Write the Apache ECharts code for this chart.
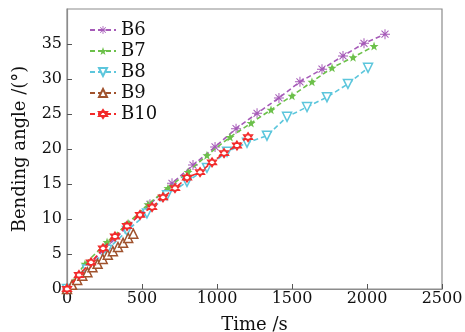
<!DOCTYPE html>
<html>
<head>
<meta charset="utf-8">
<script src="https://cdn.jsdelivr.net/npm/echarts@6/dist/echarts.min.js"></script>
<style>
  html, body { margin: 0; padding: 0; background: #fff; }
  #chart { width: 465px; height: 332px; }
</style>
</head>
<body>
<div id="chart"></div>
<script>
const seriesNames = ["B6", "B7", "B8", "B9", "B10"];

const b6Time = [0, 140, 273, 413, 553, 700, 840, 987, 1127, 1267, 1413, 1553, 1700, 1840, 1980, 2120];
const b6Angle = [0, 3.3, 6.2, 9.1, 12.1, 15.1, 17.7, 20.3, 22.9, 25.1, 27.3, 29.6, 31.4, 33.3, 35.1, 36.4];

const b7Time = [0, 120, 267, 407, 540, 673, 807, 933, 1087, 1227, 1360, 1500, 1633, 1767, 1907, 2047];
const b7Angle = [0, 3.6, 6.7, 9.4, 12.1, 14.4, 16.7, 19.1, 21.7, 23.7, 25.6, 27.6, 29.6, 31.6, 33.1, 34.7];

const b8Time = [0, 133, 267, 400, 533, 667, 800, 933, 1067, 1200, 1333, 1467, 1600, 1733, 1873, 2007];
const b8Angle = [0, 2.8, 5.6, 8.3, 10.8, 13.4, 15.3, 17.3, 19.6, 20.9, 21.9, 24.6, 26.0, 27.4, 29.3, 31.6];

const b9Time = [0, 34, 68, 102, 136, 170, 204, 238, 272, 306, 340, 374, 408, 442];
const b9Angle = [0, 0.6, 1.3, 1.9, 2.4, 3.1, 3.6, 4.3, 4.9, 5.4, 6.0, 6.6, 7.3, 7.9];

const b10Time = [0, 80, 160, 240, 320, 400, 487, 567, 640, 720, 800, 887, 967, 1047, 1133, 1207];
const b10Angle = [0, 2.0, 3.8, 5.8, 7.5, 9.0, 10.6, 11.7, 13.1, 14.4, 15.9, 16.7, 18.1, 19.4, 20.5, 21.7];

const colors = ["#a65bb8", "#6cc04a", "#5cc6dc", "#a0522d", "#f22a2a"];

const asterisk = "path://M-1,-10L1,-10L1,10L-1,10Z M-10,-1L10,-1L10,1L-10,1Z " +
  "M-6.3,-7.7L7.7,6.3L6.3,7.7L-7.7,-6.3Z M-7.7,6.3L6.3,-7.7L7.7,-6.3L-6.3,7.7Z";
const hexagram = "path://M0,-10L8.66,5L-8.66,5Z M0,10L-8.66,-5L8.66,-5Z";
const star = "path://M0,-10L2.35,-3.24L9.51,-3.09L3.8,1.24L5.88,8.09L0,4L-5.88,8.09L-3.8,1.24L-9.51,-3.09L-2.35,-3.24Z";

const font = "DejaVu Serif";

const pairs = (t, v) => t.map((x, i) => [x, v[i]]);

const series = [
  {
    name: seriesNames[0], data: pairs(b6Time, b6Angle),
    symbol: asterisk, symbolSize: 10,
    itemStyle: { color: colors[0] }
  },
  {
    name: seriesNames[1], data: pairs(b7Time, b7Angle),
    symbol: star, symbolSize: 9,
    itemStyle: { color: colors[1] }
  },
  {
    name: seriesNames[2], data: pairs(b8Time, b8Angle),
    symbol: "triangle", symbolRotate: 180, symbolSize: 9,
    itemStyle: { color: "#fff", borderColor: colors[2], borderWidth: 1.5 }
  },
  {
    name: seriesNames[3], data: pairs(b9Time, b9Angle),
    symbol: "triangle", symbolSize: 9,
    itemStyle: { color: "#fff", borderColor: colors[3], borderWidth: 1.5 }
  },
  {
    name: seriesNames[4], data: pairs(b10Time, b10Angle),
    symbol: hexagram, symbolSize: 9,
    itemStyle: { color: "#fff", borderColor: colors[4], borderWidth: 1.3 }
  }
].map((s, i) => ({
  type: "line",
  showAllSymbol: true,
  animation: false,
  lineStyle: { color: colors[i], width: 1.6, type: [5, 3] },
  z: 2 + i,
  ...s
}));

const chart = echarts.init(document.getElementById("chart"));

chart.setOption({
  animation: false,
  backgroundColor: "#fff",
  grid: {
    left: 67, right: 23, top: 9, bottom: 43,
    outerBoundsMode: "none",
    show: true, borderColor: "#8c8c8c", borderWidth: 1.2
  },
  legend: {
    orient: "vertical",
    left: 84, top: 16,
    itemWidth: 26, itemHeight: 10, itemGap: 3,
    textStyle: { fontFamily: font, fontSize: 18, color: "#111", padding: [0, 0, 0, 0] },
    data: seriesNames
  },
  xAxis: {
    type: "value",
    min: 0, max: 2500, interval: 500,
    name: "Time /s",
    nameLocation: "middle",
    nameGap: 27,
    nameTextStyle: { fontFamily: font, fontSize: 18, color: "#111" },
    axisLine: { lineStyle: { color: "#8c8c8c", width: 1.2 } },
    axisTick: { inside: true, length: 5, lineStyle: { color: "#555" } },
    axisLabel: { fontFamily: font, fontSize: 16, color: "#111", margin: 2, formatter: v => String(v) },
    splitLine: { show: false }
  },
  yAxis: {
    type: "value",
    min: 0, max: 40, interval: 5,
    name: "Bending angle /(°)",
    nameLocation: "middle",
    nameGap: 38,
    nameTextStyle: { fontFamily: font, fontSize: 18, color: "#111" },
    axisLine: { lineStyle: { color: "#8c8c8c", width: 1.2 } },
    axisTick: { inside: true, length: 5, lineStyle: { color: "#555" } },
    axisLabel: { fontFamily: font, fontSize: 16, color: "#111", margin: 5, showMaxLabel: false },
    splitLine: { show: false }
  },
  series: series
});
</script>
</body>
</html>
